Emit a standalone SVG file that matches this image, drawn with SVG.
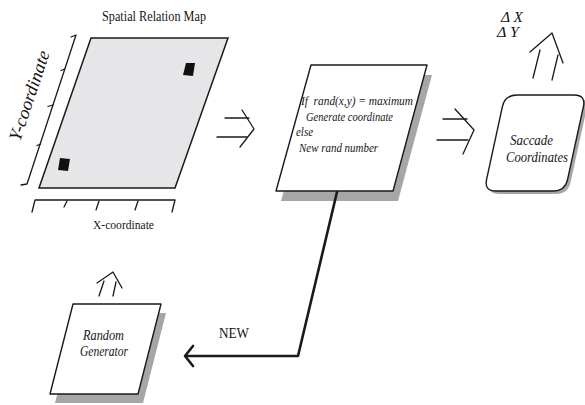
<svg xmlns="http://www.w3.org/2000/svg" width="585" height="405" viewBox="0 0 585 405">
<style>
.ln{fill:none;stroke:#1a1a1a;stroke-width:1.3;stroke-linecap:round;stroke-linejoin:round}
.box{fill:#ffffff;stroke:#1a1a1a;stroke-width:1.4;stroke-linejoin:round}
.shadow{fill:#a6a6a8;stroke:none}
.t{font-family:'Liberation Serif','Times New Roman',serif;fill:#151515}
.it{font-style:italic}
.thick{fill:none;stroke:#1a1a1a;stroke-width:2.6;stroke-linecap:round;stroke-linejoin:round}
</style>
<rect x="0" y="0" width="585" height="405" fill="#ffffff"/>

<g id="map">
  <text class="t" x="102" y="20.5" font-size="14" textLength="104" lengthAdjust="spacingAndGlyphs">Spatial Relation Map</text>
  <polygon points="91,38 228,38 175,188 39,188" fill="#e6e6e8" stroke="#1a1a1a" stroke-width="1.5"/>
  <polygon points="186,63 195,63 193,76 183,75" fill="#111111"/>
  <polygon points="60,158 70,159 68,171 58,170" fill="#111111"/>
  <polyline class="ln" points="71,37 76,35 27,184 21,185"/>
  <line class="ln" x1="64.6" y1="69" x2="61" y2="70.5"/>
  <line class="ln" x1="52.8" y1="105" x2="48" y2="106.5"/>
  <line class="ln" x1="40.6" y1="144" x2="37" y2="145.5"/>
  <text class="t it" transform="translate(20,142) rotate(-71.4)" font-size="18" textLength="94" lengthAdjust="spacingAndGlyphs">Y-coordinate</text>
  <polyline class="ln" points="32,212 35,200 175,200 172,212"/>
  <line class="ln" x1="67" y1="201" x2="64" y2="207"/>
  <line class="ln" x1="99" y1="201" x2="96" y2="210"/>
  <line class="ln" x1="138" y1="201" x2="135" y2="210"/>
  <text class="t" x="93" y="228.5" font-size="13.5" textLength="61" lengthAdjust="spacingAndGlyphs">X-coordinate</text>
</g>

<g id="decision">
  <polygon class="shadow" points="316,75 432,75 398,201 281,201"/>
  <polygon class="box" points="311,65 427,65 393,191 276,191"/>
  <text class="t it" x="301" y="105" font-size="13.5" textLength="112" lengthAdjust="spacingAndGlyphs" xml:space="preserve">If  rand(x,y) = maximum</text>
  <text class="t it" x="306" y="120.5" font-size="13.5" textLength="87" lengthAdjust="spacingAndGlyphs">Generate coordinate</text>
  <text class="t it" x="296" y="136" font-size="13.5" textLength="17" lengthAdjust="spacingAndGlyphs">else</text>
  <text class="t it" x="299" y="151.5" font-size="13.5" textLength="79" lengthAdjust="spacingAndGlyphs">New rand number</text>
</g>

<g id="saccade">
  <path class="shadow" transform="translate(3,3)" d="M517,95 L574,95 Q586,95 583.4,106.7 L567.6,179.3 Q565,191 553,191 L496,191 Q484,191 486.6,179.3 L502.4,106.7 Q505,95 517,95 Z"/>
  <path class="box" d="M517,95 L574,95 Q586,95 583.4,106.7 L567.6,179.3 Q565,191 553,191 L496,191 Q484,191 486.6,179.3 L502.4,106.7 Q505,95 517,95 Z"/>
  <text class="t it" x="510" y="145" font-size="15" textLength="43" lengthAdjust="spacingAndGlyphs">Saccade</text>
  <text class="t it" x="506" y="161.5" font-size="15" textLength="62" lengthAdjust="spacingAndGlyphs">Coordinates</text>
</g>

<g id="random">
  <polygon class="shadow" points="78,313 166,313 143,403 55,403"/>
  <polygon class="box" points="73,304 161,304 138,394 50,394"/>
  <text class="t it" x="83" y="340" font-size="14.5" textLength="41" lengthAdjust="spacingAndGlyphs">Random</text>
  <text class="t it" x="80" y="356" font-size="14.5" textLength="48" lengthAdjust="spacingAndGlyphs">Generator</text>
</g>

<g id="delta">
  <text class="t it" x="501" y="22" font-size="14" textLength="22" lengthAdjust="spacingAndGlyphs">Δ X</text>
  <text class="t it" x="497" y="37" font-size="14" textLength="22" lengthAdjust="spacingAndGlyphs">Δ Y</text>
</g>

<g id="connectors">
  <line class="ln" x1="225" y1="118" x2="249" y2="118"/>
  <line class="ln" x1="217" y1="137" x2="247" y2="137"/>
  <polyline class="ln" points="242,110 254,129 240,147"/>

  <line class="ln" x1="443" y1="119" x2="467" y2="119"/>
  <line class="ln" x1="437" y1="140" x2="468" y2="140"/>
  <polyline class="ln" points="455,109 474,130 463,154"/>

  <polyline class="ln" points="530,52 552,33 563,63"/>
  <line class="ln" x1="540" y1="50" x2="533" y2="78"/>
  <line class="ln" x1="558" y1="55" x2="552" y2="80"/>

  <polyline class="ln" points="97,283 113,272 122,288"/>
  <line class="ln" x1="104" y1="281" x2="99" y2="296"/>
  <line class="ln" x1="116" y1="282" x2="113" y2="296"/>

  <polyline class="thick" points="337,192 298,356 186,356"/>
  <polyline class="thick" points="193,346 185,356 193,366"/>
  <text class="t" x="219" y="338" font-size="15" textLength="30" lengthAdjust="spacingAndGlyphs">NEW</text>
</g>
</svg>
